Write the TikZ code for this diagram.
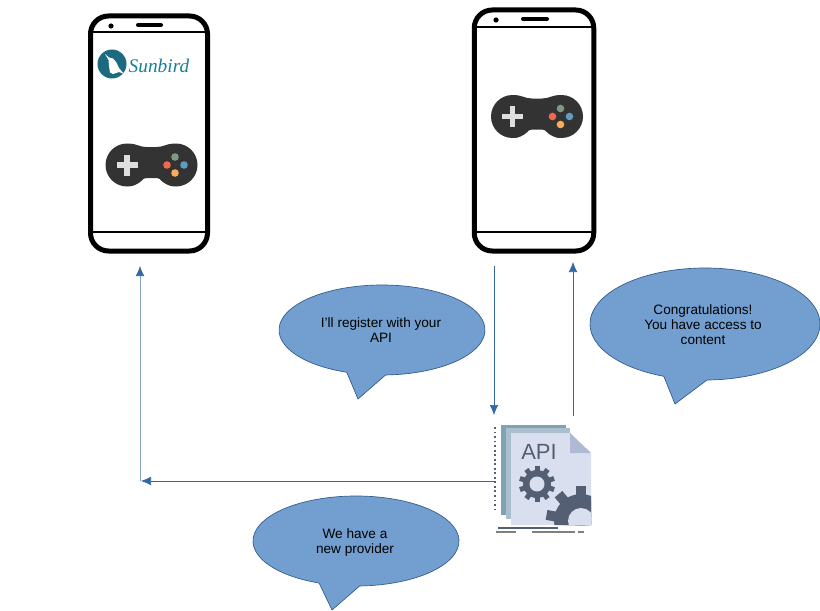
\documentclass[tikz,border=0pt]{standalone}
\usepackage{fontspec}
\setmainfont{Liberation Sans}
\newfontfamily\logofont{Liberation Serif}
\usetikzlibrary{arrows.meta}
\definecolor{bubblefill}{HTML}{729FCF}
\definecolor{bubbleline}{HTML}{2F5A8C}
\definecolor{flow}{HTML}{3465A4}
\definecolor{flowlight}{HTML}{85A3C8}
\definecolor{pad}{HTML}{333333}
\definecolor{crosscol}{HTML}{DEDEDE}
\definecolor{btnG}{HTML}{7F9A83}
\definecolor{btnR}{HTML}{F0694F}
\definecolor{btnB}{HTML}{5F9CC5}
\definecolor{btnO}{HTML}{F9AD5B}
\definecolor{teal}{HTML}{1B6A80}
\definecolor{sheetA}{HTML}{7FA3B5}
\definecolor{sheetB}{HTML}{A9BFCD}
\definecolor{sheetC}{HTML}{D9DFEE}
\definecolor{foldc}{HTML}{AFB9D3}
\definecolor{gearc}{HTML}{555F73}
\tikzset{
  flowline/.style={draw=flow,line width=0.5pt,-{Latex[length=7.5pt,width=6.5pt,color=flow]}},
  phonebody/.style={draw=black,line width=3.75pt,rounded corners=13.5pt,inner sep=0pt,fill=white},
  phoneline/.style={draw=black,line width=2.2pt},
  speaker/.style={draw=black,line width=3pt,line cap=round},
  bubbleshape/.style={fill=bubblefill,draw=bubbleline,line width=0.5pt,line join=miter},
  bubbletext/.style={font=\fontsize{10.2}{11.25}\selectfont,align=center,text=black,inner sep=0pt},
}
\newcommand{\speechshape}[8]{%
  \draw[bubbleshape] ({#1+#3*cos(#5)},{#2+#4*sin(#5)})
    arc[start angle=#5,end angle=#6+360,x radius=#3,y radius=#4] -- (#7,#8) -- cycle;}
\newcommand{\handset}[4]{%
  \node[phonebody,minimum width=#3*0.75pt,minimum height=#4*0.75pt] (#1) at #2 {};}
\newcommand{\gamepad}[2]{%
  \begin{scope}[shift={(#1,#2)}]
    \fill[pad] (-24.5,0) circle (21.5);
    \fill[pad] (24.5,0) circle (21.5);
    \fill[pad] (-22,-21.3) .. controls (-14,-21) and (-12,-18) .. (-5,-18) -- (5,-18)
      .. controls (12,-18) and (14,-21) .. (22,-21.3) -- (22,21.3)
      .. controls (14,21) and (12,13) .. (5,13) -- (-5,13)
      .. controls (-12,13) and (-14,21) .. (-22,21.3) -- cycle;
    \fill[crosscol] (-35,-2.8) rectangle (-14,2.8);
    \fill[crosscol] (-27.3,-10.5) rectangle (-21.7,10.5);
    \fill[btnG] (23.5,-8) circle (3.8);
    \fill[btnR] (15.5,0) circle (3.8);
    \fill[btnB] (32.5,0) circle (3.8);
    \fill[btnO] (23.5,8) circle (3.8);
  \end{scope}}
\newcommand{\cogwheel}[7]{%
  \foreach \k in {1,...,#6}{
    \fill[gearc,rotate around={\k*360/#6:(#1,#2)}] ({#1-#7/2},{#2-#3}) rectangle ({#1+#7/2},#2);
  }
  \fill[gearc] (#1,#2) circle (#4);
  \fill[sheetC] (#1,#2) circle (#5);}
\begin{document}
\begin{tikzpicture}[x=0.75pt,y=-0.75pt]
\useasboundingbox (0,0) rectangle (820,610);
% phones
\handset{phoneA}{(149,133.5)}{117}{235}
\handset{phoneB}{(534,130.5)}{119.5}{241}
\draw[phoneline] (phoneA.west |- 0,32) -- (phoneA.east |- 0,32);
\draw[phoneline] (phoneA.west |- 0,232) -- (phoneA.east |- 0,232);
\fill[black] (111,26) circle (2.6);
\draw[speaker] (138,25) -- (161,25);
\draw[phoneline] (phoneB.west |- 0,27) -- (phoneB.east |- 0,27);
\draw[phoneline] (phoneB.west |- 0,232) -- (phoneB.east |- 0,232);
\fill[black] (496,20) circle (2.6);
\draw[speaker] (523,19) -- (547,19);
% logo
\fill[teal] (112,64) circle (14.5);
\fill[white] (105,54) -- (109,57.5) -- (113,58.5) -- (116,62) -- (119,68) -- (124,74) -- (119,72) -- (116,73) -- (113,74) -- (110,72.5) -- (109,66) -- (108.5,60) -- cycle;
\node[font=\logofont\itshape\fontsize{14.5}{14.5}\selectfont,text=teal!85!cyan,inner sep=0pt] (logotext) at (159,66) {Sunbird};
% gamepads
\gamepad{151.5}{165}
\gamepad{537}{116.5}
% API document
\fill[sheetA] (501,425) rectangle (566,515);
\fill[sheetB] (506,428) rectangle (570,519);
\fill[sheetC] (511,433) -- (570,433) -- (591,453) -- (591,525) -- (511,525) -- cycle;
\fill[foldc] (570,433) -- (570,453) -- (591,453) -- cycle;
\begin{scope}
  \clip (511,433) -- (570,433) -- (591,453) -- (591,525) -- (511,525) -- cycle;
  \cogwheel{581}{521}{35}{27}{13}{9}{10}
\end{scope}
\cogwheel{537}{484}{18}{14}{7.5}{10}{5}
\node[font=\fontsize{16.5}{16.5}\selectfont,text=gearc,inner sep=0pt] (apilabel) at (539,452) {API};
\coordinate (dotsTop) at (495,427);
\coordinate (dotsEnd) at (495,510);
\draw[gearc,line width=1.4pt,dash pattern=on 1.4pt off 2pt] (dotsTop) -- (dotsEnd);
\draw[gearc,line width=1pt] (498,528) -- (558,528);
\draw[gray,line width=1pt] (496,532) -- (516,532);
\draw[gray,line width=1pt] (532,532) -- (575,532);
\draw[gray,line width=1pt] (578,532) -- (584,532);
% connectors
\coordinate (downFrom) at (494,266);
\coordinate (downTo) at (494,415);
\coordinate (upFrom) at (573,416);
\coordinate (upTo) at (573,262);
\coordinate (apiLeft) at (494,481);
\coordinate (corner) at (141,481);
\coordinate (cornerUp) at (140,481);
\coordinate (phoneAin) at (140,266);
\draw[flowline] (downFrom) -- (downTo);
\draw[flowline] (upFrom) -- (upTo);
\draw[flowline] (apiLeft) -- (corner);
\draw[flowline,draw=flowlight] (cornerUp) -- (phoneAin);
% bubbles
\speechshape{382}{330}{103}{45}{110}{88}{358}{399}
\node[bubbletext] (textA) at (381,330.5) {I’ll register with your\\API};
\speechshape{705}{324}{115}{56}{111}{89}{675}{404}
\node[bubbletext] (textB) at (703,324.5) {Congratulations!\\You have access to\\content};
\speechshape{356}{541}{103}{45}{111}{88}{332}{610}
\node[bubbletext] (textC) at (355,542) {We have a\\new provider};
\end{tikzpicture}
\end{document}
